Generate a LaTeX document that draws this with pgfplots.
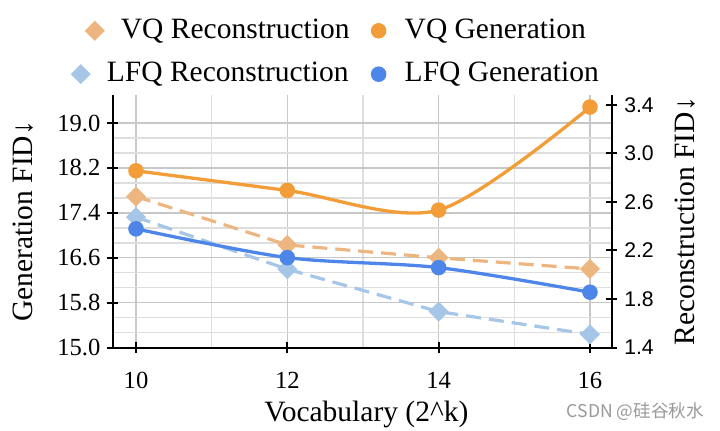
\documentclass[border=0pt]{standalone}
\usepackage{fontspec}
\setmainfont{Liberation Serif}
\newfontfamily\sansf{Liberation Sans}
\newfontfamily\cjk{Noto Sans CJK SC}
\usepackage{pgfplots}
\pgfplotsset{compat=1.18}
\definecolor{vqgen}{HTML}{F29D38}
\definecolor{vqrec}{HTML}{EDB680}
\definecolor{lfqgen}{HTML}{4E85E8}
\definecolor{lfqrec}{HTML}{A6C6E8}
\pgfplotsset{
  base/.style={scale only axis, width=249.35pt, height=126.35pt,
    xmin=9.696, xmax=16.287, clip=false},
  genstyle/.style={line width=1.65pt, smooth, mark=*, mark size=3.05pt, mark options={solid}},
  recstyle/.style={line width=1.6pt, dash pattern=on 7.5pt off 4pt, mark=square*, mark size=2.75pt, mark options={solid, rotate=45}},
}
\begin{document}
\begin{tikzpicture}
\useasboundingbox (-56.5pt,-41.65pt) rectangle (303.5pt,173.85pt);
% left axis with grid
\begin{axis}[base, ymin=15, ymax=19.5,
  axis x line*=bottom, axis y line*=left,
  axis line style={line width=1pt, black},
  xtick={10,12,14,16}, minor xtick={11,13,15},
  ytick={15.0,15.8,16.6,17.4,18.2,19.0}, minor y tick num=2,
  grid=both,
  major grid style={line width=0.65pt, black!22},
  minor grid style={line width=0.65pt, black!13},
  tick align=center, major tick length=5.5pt, minor tick length=0pt,
  tick style={line width=1pt, black},
  /pgf/number format/assume math mode=true,
  yticklabel style={/pgf/number format/fixed, /pgf/number format/fixed zerofill, /pgf/number format/precision=1},
  ticklabel style={font=\fontsize{12.3}{14}\selectfont},
  xticklabel style={yshift=-6pt},
  xlabel={Vocabulary (2\textasciicircum k)},
  ylabel={Generation FID↓},
  label style={font=\fontsize{14.75}{17}\selectfont},
  xlabel style={at={([xshift=2pt,yshift=-37pt]axis description cs:0.5,0)}, anchor=base},
  ylabel style={at={([xshift=-40pt]axis description cs:0,0.5)}, anchor=base},
]
\addplot[draw=none] coordinates {(10,15)};
\end{axis}
% right axis: reconstruction
\begin{axis}[base, ymin=1.4, ymax=3.48,
  axis x line=none, axis y line*=right,
  axis line style={line width=1pt, black},
  ytick={1.4,1.8,2.2,2.6,3.0,3.4},
  tick align=center, major tick length=5.5pt,
  tick style={line width=1pt, black},
  /pgf/number format/assume math mode=true,
  yticklabel style={font=\sansf\fontsize{10.6}{12}\selectfont, /pgf/number format/fixed, /pgf/number format/fixed zerofill, /pgf/number format/precision=1},
  ylabel={Reconstruction FID↓},
  ylabel style={font=\fontsize{14.75}{17}\selectfont, at={([xshift=41.5pt]axis description cs:1,0.5)}, anchor=base},
  legend columns=2, legend cell align=left,
  legend image code/.code={\draw[#1] plot coordinates {(0pt,0pt)};},
  legend style={at={([xshift=-20pt,yshift=40.35pt]axis description cs:0,1)}, anchor=north west,
    draw=none, fill=none, inner sep=0pt, outer sep=0pt,
    font=\fontsize{14.75}{17}\selectfont,
    nodes={inner sep=1pt, text height=11pt, text depth=3.5pt},
    row sep=5.2pt,
    /tikz/column 1/.style={column sep=1.2pt},
    /tikz/column 2/.style={column sep=10.5pt},
    /tikz/column 3/.style={column sep=9pt}},
]
\addplot[vqrec, recstyle, legend image post style={xshift=7pt}] coordinates {(10,2.644)(12,2.246)(14,2.14)(16,2.048)};
\addlegendentry{\hspace*{7pt}VQ Reconstruction}
\addlegendimage{vqgen, genstyle}
\addlegendentry{VQ Generation}
\addplot[lfqrec, recstyle] coordinates {(10,2.475)(12,2.046)(14,1.697)(16,1.51)};
\addlegendentry{LFQ Reconstruction}
\addlegendimage{lfqgen, genstyle}
\addlegendentry{LFQ Generation}
\end{axis}
% generation plots
\begin{axis}[base, ymin=15, ymax=19.5, hide axis]
\addplot[vqgen, genstyle] coordinates {(10,18.15)(12,17.80)(14,17.45)(16,19.285)};
\addplot[lfqgen, genstyle] coordinates {(10,17.116)(12,16.604)(14,16.426)(16,15.988)};
\end{axis}
\node[font=\cjk\fontsize{8.8}{10}\selectfont, text=black!40] at (261.25pt,-32.15pt) {CSDN @硅谷秋水};
\end{tikzpicture}
\end{document}
